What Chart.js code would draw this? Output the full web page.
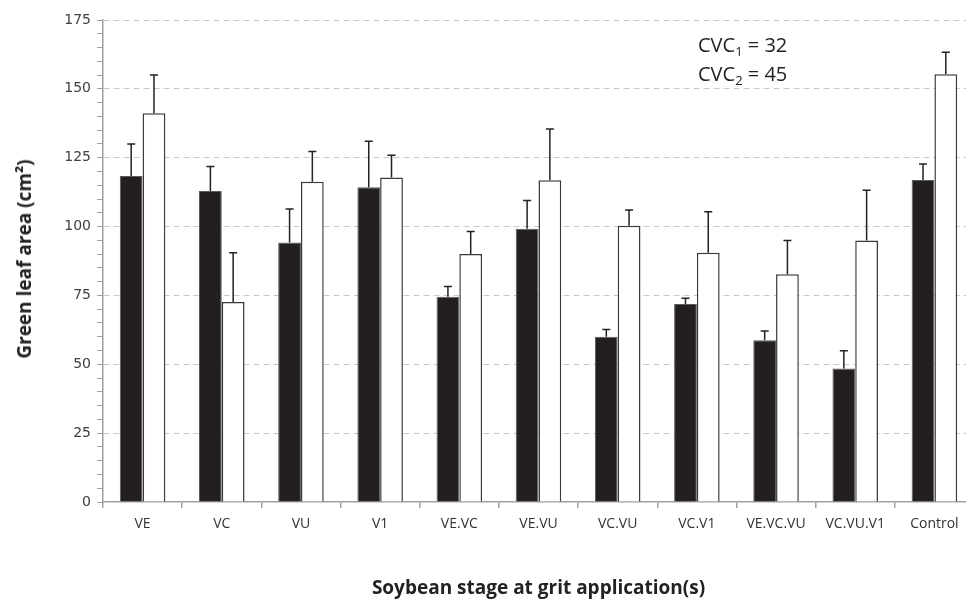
<!DOCTYPE html>
<html>
<head>
<meta charset="utf-8">
<script src="https://cdn.jsdelivr.net/npm/chart.js@4.4.0/dist/chart.umd.min.js"></script>
<style>
  html, body { margin: 0; padding: 0; background: #fff; overflow: hidden; }
  .wrap { position: relative; width: 966px; height: 602px; overflow: hidden; }
  canvas { position: absolute; left: 0; top: 0; }
  .ytitle {
    position: absolute; left: 24px; top: 259px;
    transform: translate(-50%, -50%) rotate(-90deg);
    font: bold 19px "Open Sans", sans-serif; color: #222; white-space: nowrap;
  }
  .note {
    position: absolute; left: 698px; top: 30px;
    font: 20px "Open Sans", sans-serif; color: #222; line-height: 29px;
  }
  .note sub { font-size: 13px; vertical-align: -4px; line-height: 0; }
</style>
</head>
<body>
<div class="wrap">
  <canvas id="chart" width="980" height="602"></canvas>
  <div class="ytitle">Green leaf area (cm²)</div>
  <div class="note">CVC<sub>1</sub> = 32<br>CVC<sub>2</sub> = 45</div>
</div>
<script>
// soybean stages at grit application
const stages = ['VE', 'VC', 'VU', 'V1', 'VE.VC', 'VE.VU', 'VC.VU', 'VC.V1', 'VE.VC.VU', 'VC.VU.V1', 'Control'];

// black bars and their error (upper only)
const blackVals = [118.4, 112.9, 94.2, 114.3, 74.5, 99.2, 60.0, 71.9, 58.7, 48.5, 116.9];
const blackErr = [11.6, 8.9, 12.2, 16.7, 3.7, 10.3, 2.6, 2.1, 3.4, 6.4, 5.8];

// white bars and their error
const whiteVals = [141.1, 72.6, 116.3, 117.8, 90.0, 116.8, 100.3, 90.5, 82.7, 94.9, 155.3];
const whiteErr = [13.9, 17.9, 11.0, 8.1, 8.2, 18.6, 5.7, 14.9, 12.2, 18.3, 8.0];

const yMax = 175;
const yLabelStep = 25;

// draws the upper half of the error bars with a small cap
const errorBars = {
  id: 'errorBars',
  afterDatasetsDraw(chart) {
    const ctx = chart.ctx;
    const y = chart.scales.y;
    ctx.save();
    ctx.strokeStyle = '#222';
    ctx.lineWidth = 1.5;
    chart.data.datasets.forEach((ds, i) => {
      const meta = chart.getDatasetMeta(i);
      meta.data.forEach((bar, j) => {
        const top = y.getPixelForValue(ds.data[j] + ds.errors[j]);
        ctx.beginPath();
        ctx.moveTo(bar.x, bar.y);
        ctx.lineTo(bar.x, top);
        ctx.moveTo(bar.x - 4, top);
        ctx.lineTo(bar.x + 4, top);
        ctx.stroke();
      });
    });
    ctx.restore();
  }
};

new Chart(document.getElementById('chart'), {
  type: 'bar',
  data: {
    labels: stages,
    datasets: [
      {
        data: blackVals,
        errors: blackErr,
        backgroundColor: '#231f20',
        borderColor: '#5a5a5a',
        borderWidth: 1,
        categoryPercentage: 0.575,
        barPercentage: 1
      },
      {
        data: whiteVals,
        errors: whiteErr,
        backgroundColor: '#ffffff',
        borderColor: '#3a3a3a',
        borderWidth: 1.5,
        categoryPercentage: 0.575,
        barPercentage: 1
      }
    ]
  },
  options: {
    responsive: false,
    animation: false,
    layout: { padding: { top: 20, right: 6, left: 0, bottom: 0 } },
    plugins: {
      legend: { display: false },
      tooltip: { enabled: false }
    },
    scales: {
      x: {
        afterFit: (s) => { s.height = 100; },
        grid: {
          offset: true,
          drawOnChartArea: false,
          tickLength: 6,
          tickColor: '#a0a0a0',
          lineWidth: 1.5
        },
        border: { color: '#a0a0a0', width: 1.5 },
        ticks: {
          color: '#333',
          padding: 8,
          font: { family: 'Open Sans', size: 14 }
        },
        title: {
          display: true,
          text: 'Soybean stage at grit application(s)',
          color: '#222',
          padding: { top: 0, bottom: 2 },
          font: { family: 'Open Sans', size: 19, weight: 'bold' }
        }
      },
      y: {
        min: 0,
        max: yMax,
        afterFit: (s) => { s.width = 103; },
        ticks: {
          stepSize: 5,
          autoSkip: false,
          padding: 6,
          color: '#404040',
          font: { family: 'DejaVu Sans', size: 14 },
          callback: (v) => (v % yLabelStep === 0 ? v : '')
        },
        grid: {
          tickLength: 6,
          tickColor: '#a0a0a0',
          color: (c) => (c.tick && c.tick.value % yLabelStep === 0 && c.tick.value !== 0 ? '#c8c8c8' : 'rgba(0,0,0,0)'),
          lineWidth: 1
        },
        border: { color: '#a0a0a0', width: 1.5, dash: [6, 4] }
      }
    }
  },
  plugins: [errorBars]
});
</script>
</body>
</html>
